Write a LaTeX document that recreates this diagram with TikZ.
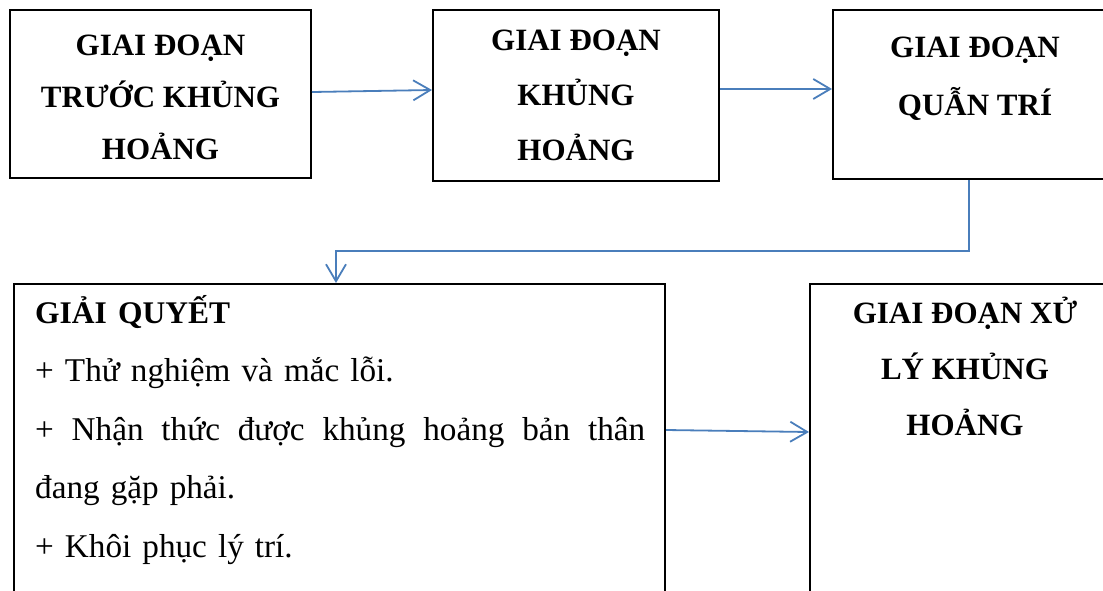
\documentclass[tikz,border=0pt]{standalone}
\usepackage{fontspec}
\setmainfont{Liberation Serif}
\usetikzlibrary{arrows.meta,calc}
\definecolor{connblue}{RGB}{74,126,187}
\begin{document}
\begin{tikzpicture}[x=1pt,y=-1pt,
  box/.style={draw=black,line width=2pt,inner sep=0pt},
  ttl/.style={font=\fontsize{31}{#1}\selectfont\bfseries,align=center,inner sep=0pt},
  link/.style={draw=connblue,line width=1.8pt,-{Straight Barb[length=17pt,width=20pt]}}]
\useasboundingbox (0,0) rectangle (1103,590);
\clip (0,0) rectangle (1103,590);
% boxes
\node[box,minimum width=301pt,minimum height=168pt] (b1) at (160.5,94) {};
\node[box,minimum width=286pt,minimum height=171pt] (b2) at (576,95.5) {};
\node[box,minimum width=279pt,minimum height=169pt] (b3) at (972.5,94.5) {};
\node[box,minimum width=651pt,minimum height=326pt] (b4) at (339.5,447) {};
\node[box,minimum width=302pt,minimum height=326pt] (b5) at (961,447) {};
% texts
\node[ttl=52] (t1) at (160.5,97) {GIAI ĐOẠN\\TRƯỚC KHỦNG\\HOẢNG};
\node[ttl=55] (t2) at (576,95) {GIAI ĐOẠN\\KHỦNG\\HOẢNG};
\node[ttl=58] (t3) at (975,79) {GIAI ĐOẠN\\QUẪN TRÍ};
\node[ttl=56] (t5) at (965,366) {GIAI ĐOẠN XỬ\\LÝ KHỦNG\\HOẢNG};
\node[anchor=north west,inner sep=0pt,text width=610pt,align=left,
      font=\fontsize{33.2}{58.5}\selectfont] (t4) at (35,295)
  {{\bfseries\fontsize{31.5}{58.5}\selectfont GIẢI QUYẾT}\\
   + Thử nghiệm và mắc lỗi.\\
   \makebox[610pt][l]{+\hfill Nhận\hfill thức\hfill được\hfill khủng\hfill hoảng\hfill bản\hfill thân}\\
   đang gặp phải.\\
   + Khôi phục lý trí.};
% connectors
\coordinate (c) at (336,251);
\draw[link] ([yshift=2pt]b1.east) -- ([yshift=5.5pt]b2.west);
\draw[link] ([yshift=6.5pt]b2.east) -- ([yshift=5.5pt]b3.west);
\draw[link] ([xshift=-3.5pt]b3.south) |- (c) -- ([xshift=-3.5pt]b4.north);
\draw[link] ([yshift=17pt]b4.east) -- ([yshift=15pt]b5.west);
\end{tikzpicture}
\end{document}
